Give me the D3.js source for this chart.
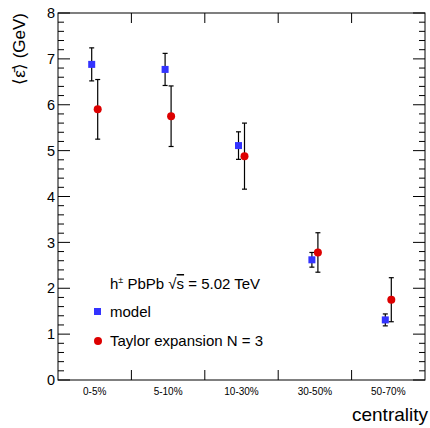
<!DOCTYPE html>
<html>
<head>
<meta charset="utf-8">
<script src="https://cdn.jsdelivr.net/npm/d3@7"></script>
<style>
  body { margin: 0; background: #fff; overflow: hidden; }
  svg { display: block; font-family: "Liberation Sans", Arial, sans-serif; }
</style>
</head>
<body>
<div id="chart"></div>
<script>
// centrality bins
const categories = ['0-5%', '5-10%', '10-30%', '30-50%', '50-70%'];
// model
const modelValues = [6.88, 6.77, 5.11, 2.62, 1.31];
const modelErrors = [0.36, 0.35, 0.30, 0.16, 0.13];
// Taylor expansion N = 3
const taylorValues = [5.90, 5.75, 4.88, 2.78, 1.75];
const taylorErrors = [0.65, 0.66, 0.72, 0.43, 0.48];
const yTicks = [0, 1, 2, 3, 4, 5, 6, 7, 8];

const width = 430, height = 428;
const margin = {top: 13, right: 5, bottom: 48, left: 58};
const innerWidth = width - margin.left - margin.right;
const innerHeight = height - margin.top - margin.bottom;

const svg = d3.select('#chart').append('svg')
    .attr('width', width).attr('height', height);
const g = svg.append('g').attr('transform', `translate(${margin.left},${margin.top})`);

const x = d3.scaleBand().domain(categories).range([0, innerWidth]).padding(0);
const y = d3.scaleLinear().domain([0, 8]).range([innerHeight, 0]);

// frame
g.append('rect').attr('width', innerWidth).attr('height', innerHeight)
    .attr('fill', 'none').attr('stroke', '#000').attr('stroke-width', 1);

// y ticks (major + minor, both sides)
const minor = d3.range(0, 8.001, 0.2);
minor.forEach(v => {
    const isMajor = Math.abs(v - Math.round(v)) < 1e-6;
    const len = isMajor ? 12 : 6;
    g.append('line').attr('x1', 0).attr('x2', len).attr('y1', y(v)).attr('y2', y(v))
        .attr('stroke', '#000');
    g.append('line').attr('x1', innerWidth).attr('x2', innerWidth - len).attr('y1', y(v)).attr('y2', y(v))
        .attr('stroke', '#000');
});
yTicks.forEach(v => {
    g.append('text').attr('x', -3).attr('y', y(v)).attr('dy', '0.36em')
        .attr('text-anchor', 'end').attr('font-size', 14.5).text(v);
});

// x bin edges ticks, top and bottom
categories.slice(1).forEach(c => {
    const xp = x(c);
    g.append('line').attr('x1', xp).attr('x2', xp).attr('y1', innerHeight).attr('y2', innerHeight - 10)
        .attr('stroke', '#000');
    g.append('line').attr('x1', xp).attr('x2', xp).attr('y1', 0).attr('y2', 10)
        .attr('stroke', '#000');
});
categories.forEach(c => {
    g.append('text').attr('x', x(c) + x.bandwidth() / 2).attr('y', innerHeight + 15)
        .attr('text-anchor', 'middle').attr('font-size', 10).text(c);
});

// axis titles
svg.append('text').attr('x', 428).attr('y', 421).attr('text-anchor', 'end')
    .attr('font-size', 19).text('centrality');
svg.append('text').attr('transform', `translate(25,${margin.top}) rotate(-90)`)
    .attr('text-anchor', 'end').attr('font-size', 17).text('\u27E8\u03B5\u0304\u27E9 (GeV)');

// data series
function drawSeries(values, errors, offset, shape, color) {
    const cx = i => x(categories[i]) + x.bandwidth() / 2 + offset;
    values.forEach((v, i) => {
        const xp = cx(i);
        g.append('line').attr('x1', xp).attr('x2', xp)
            .attr('y1', y(v + errors[i])).attr('y2', y(v - errors[i]))
            .attr('stroke', '#000').attr('stroke-width', 1.2);
        [v + errors[i], v - errors[i]].forEach(e => {
            g.append('line').attr('x1', xp - 2.5).attr('x2', xp + 2.5)
                .attr('y1', y(e)).attr('y2', y(e)).attr('stroke', '#000').attr('stroke-width', 1.2);
        });
        if (shape === 'square') {
            g.append('rect').attr('x', xp - 3.5).attr('y', y(v) - 3.5)
                .attr('width', 7).attr('height', 7).attr('fill', color);
        } else {
            g.append('circle').attr('cx', xp).attr('cy', y(v)).attr('r', 4).attr('fill', color);
        }
    });
}
drawSeries(modelValues, modelErrors, -3, 'square', '#3333ff');
drawSeries(taylorValues, taylorErrors, 3, 'circle', '#dd0000');

// legend
const leg = svg.append('g').attr('font-size', 15);
const hTxt = leg.append('text').attr('x', 110).attr('y', 289);
hTxt.append('tspan').text('h');
hTxt.append('tspan').attr('dy', -6).attr('font-size', 9).text('\u00B1');
hTxt.append('tspan').attr('dy', 6).text(' PbPb ');
hTxt.append('tspan').text('\u221A');
hTxt.append('tspan').attr('text-decoration', 'overline').text('s');
hTxt.append('tspan').text(' = 5.02 TeV');
leg.append('rect').attr('x', 94).attr('y', 308).attr('width', 7).attr('height', 7).attr('fill', '#3333ff');
leg.append('text').attr('x', 110).attr('y', 317).text('model');
leg.append('circle').attr('cx', 98).attr('cy', 341).attr('r', 4).attr('fill', '#dd0000');
leg.append('text').attr('x', 110).attr('y', 346).text('Taylor expansion N = 3');
</script>
</body>
</html>
